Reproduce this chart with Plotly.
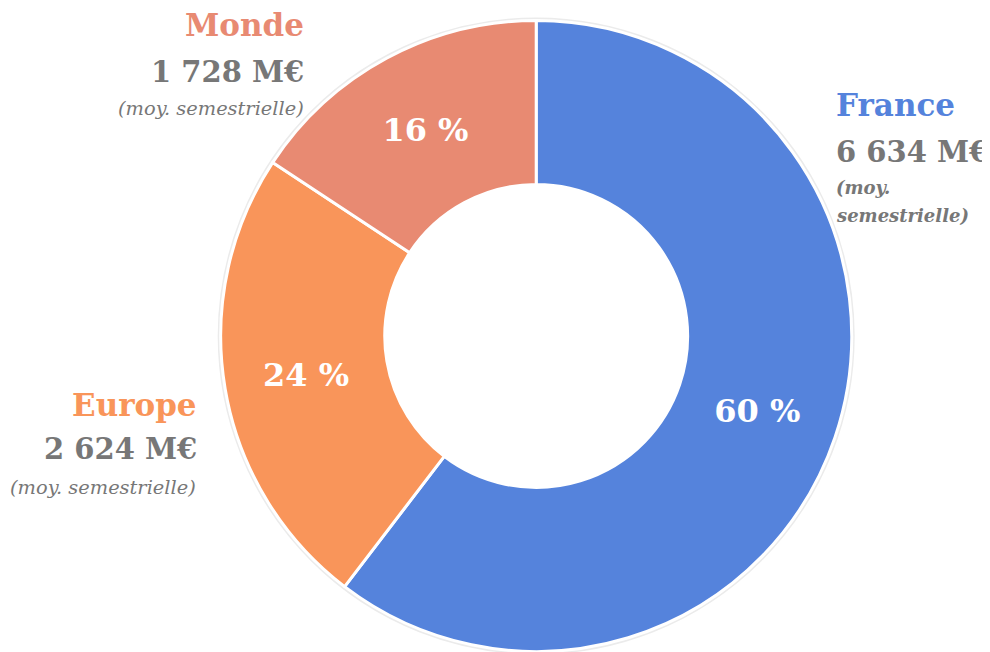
import plotly.graph_objects as go

regions = ["France", "Europe", "Monde"]
values = [6634, 2624, 1728]
value_labels = ["6 634 M€", "2 624 M€", "1 728 M€"]
colors = ["#5583DC", "#F9955A", "#E88A72"]
subtitle = "(moy. semestrielle)"

total = sum(values)
pct_labels = [f"<b>{round(v / total * 100)} %</b>" for v in values]

W, H = 990, 652
OFF = 8  # page body margin offset
cx, cy, R = 536.2 - OFF, 336.0 - OFF, 315.5  # pixel geometry (from top of figure)
hole = 0.48
FONT = "DejaVu Serif"
GREY = "#777777"


def dom(r):
    ycb = H - cy
    return dict(x=[(cx - r) / W, (cx + r) / W], y=[max(0, (ycb - r) / H), min(1, (ycb + r) / H)])


def px(x):
    return (x - OFF) / W


def py(y):
    return 1 - (y - OFF) / H


fig = go.Figure()
fig.add_trace(go.Pie(
    labels=regions, values=values, text=pct_labels,
    texttemplate="%{text}", textposition="inside",
    insidetextorientation="horizontal",
    textfont=dict(family=FONT, size=32, color="white"),
    marker=dict(colors=colors, line=dict(color="white", width=3)),
    hole=hole, sort=False, direction="clockwise", rotation=0,
    showlegend=False, domain=dom(R),
))

# faint outer halo
hr = R + 1.5
fig.add_shape(type="circle", xref="paper", yref="paper", layer="below",
              x0=(cx - hr) / W, x1=(cx + hr) / W, y0=1 - (cy + hr) / H, y1=1 - (cy - hr) / H,
              line=dict(color="#ebebeb", width=3), fillcolor="rgba(0,0,0,0)")

NAME, VAL, SUB = 31, 29, 19.4
ann = []
# Monde (right aligned)
ann += [
    dict(x=px(306), y=py(25), text="<b>Monde</b>", xanchor="right",
         font=dict(family=FONT, size=NAME, color=colors[2])),
    dict(x=px(306), y=py(72), text=f"<b>{value_labels[2]}</b>", xanchor="right",
         font=dict(family=FONT, size=VAL, color=GREY)),
    dict(x=px(306), y=py(108), text=f"<i>{subtitle}</i>", xanchor="right",
         font=dict(family=FONT, size=SUB, color=GREY)),
]
# Europe (right aligned)
ann += [
    dict(x=px(199), y=py(405), text="<b>Europe</b>", xanchor="right",
         font=dict(family=FONT, size=NAME, color=colors[1])),
    dict(x=px(199), y=py(449), text=f"<b>{value_labels[1]}</b>", xanchor="right",
         font=dict(family=FONT, size=VAL, color=GREY)),
    dict(x=px(198), y=py(487), text=f"<i>{subtitle}</i>", xanchor="right",
         font=dict(family=FONT, size=SUB, color=GREY)),
]
# France (left aligned)
ann += [
    dict(x=px(834), y=py(105), text="<b>France</b>", xanchor="left",
         font=dict(family=FONT, size=NAME, color=colors[0])),
    dict(x=px(834), y=py(152), text=f"<b>{value_labels[0]}</b>", xanchor="left",
         font=dict(family=FONT, size=VAL, color=GREY)),
    dict(x=px(834), y=py(188), text="<b><i>(moy.</i></b>", xanchor="left",
         font=dict(family=FONT, size=18, color=GREY)),
    dict(x=px(834), y=py(215), text="<b><i>semestrielle)</i></b>", xanchor="left",
         font=dict(family=FONT, size=18, color=GREY)),
]
for a in ann:
    a.update(xref="paper", yref="paper", yanchor="middle", showarrow=False)

fig.update_layout(
    width=W, height=H, margin=dict(l=0, r=0, t=0, b=0),
    paper_bgcolor="white", plot_bgcolor="white",
    annotations=ann, showlegend=False,
)
fig.write_html("out.html")
